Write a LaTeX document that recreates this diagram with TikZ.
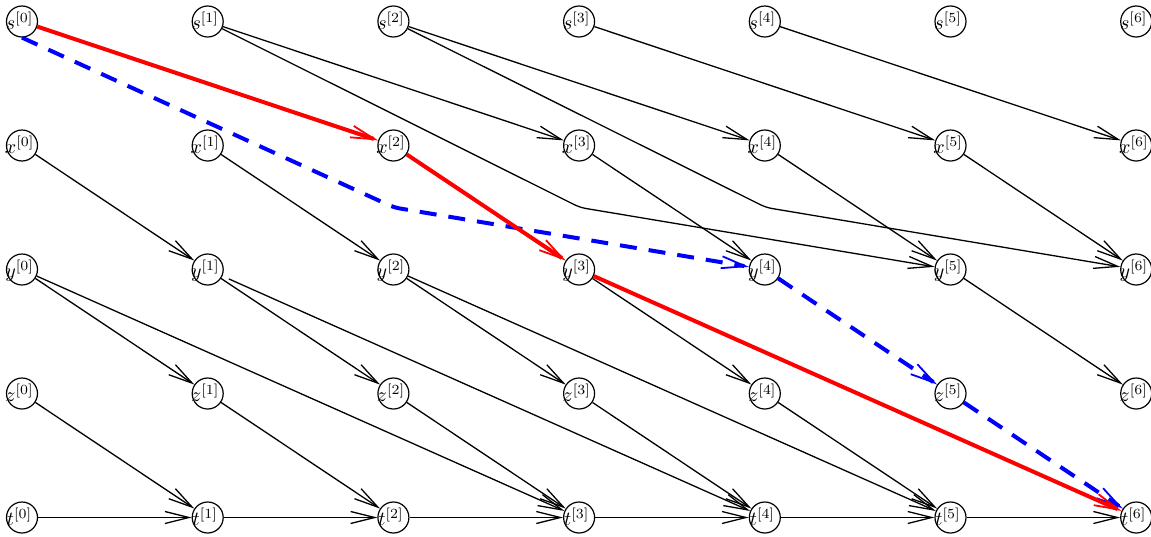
\documentclass[tikz,border=0pt]{standalone}
\usetikzlibrary{arrows.meta}
\begin{document}
\begin{tikzpicture}[x=0.5pt,y=-0.5pt,
  vnode/.style={circle,draw,line width=0.6pt,inner sep=0pt,minimum size=15.5pt},
  vlabel/.style={anchor=base,inner sep=0pt,xshift=-1.2pt,yshift=-4pt},
  edge/.style={line width=0.65pt,-{Straight Barb[length=12pt,width=6pt]}},
  redge/.style={red,line width=2pt,-{Straight Barb[length=12pt,width=6pt,line width=0.9pt]}},
  bedge/.style={blue,line width=2pt,dash pattern=on 8.5pt off 6pt,rounded corners=3pt,-{Straight Barb[length=12pt,width=6pt,line width=0.9pt]}},
  bent/.style={edge,rounded corners=3pt}]
\useasboundingbox (0,0) rectangle (1151,536);
\foreach \r/\yy in {s/21.5,x/145.5,y/269.5,z/393.5,t/517.5}{
  \foreach \i in {0,...,6}{
    \node[vnode] (\r\i) at ({22+185.7*\i},\yy) {};
    \node[vlabel] (\r\i l) at (\r\i) {$\r^{[\i]}$};
  }
}
\coordinate (b0) at (394,207.5);
\coordinate (b1) at (580,207.5);
\coordinate (b2) at (766,207.5);
% black edges
\draw[edge] (s1) -- (x3);
\draw[edge] (s2) -- (x4);
\draw[edge] (s3) -- (x5);
\draw[edge] (s4) -- (x6);
\draw[bent] (s1) -- (b1) -- (y5);
\draw[bent] (s2) -- (b2) -- (y6);
\draw[edge] (x0) -- (y1);
\draw[edge] (x1) -- (y2);
\draw[edge] (x3) -- (y4);
\draw[edge] (x4) -- (y5);
\draw[edge] (x5) -- (y6);
\draw[edge] (y0) -- (z1);
\draw[edge] (y0) -- (t3);
\draw[edge] (y1) -- (z2);
\draw[edge,shorten <=3.5pt] (y1) -- (t4);
\draw[edge] (y2) -- (z3);
\draw[edge] (y2) -- (t5);
\draw[edge] (y3) -- (z4);
\draw[edge] (y5) -- (z6);
\draw[edge] (z0) -- (t1);
\draw[edge] (z1) -- (t2);
\draw[edge] (z2) -- (t3);
\draw[edge] (z3) -- (t4);
\draw[edge] (z4) -- (t5);
\foreach \a/\b in {0/1,1/2,2/3,3/4,4/5,5/6}{
  \draw[edge] (t\a) -- (t\b);
}
% blue path
\draw[bedge] (s0.south) -- (b0) -- (y4);
\draw[bedge] (y4) -- (z5);
\draw[bedge] (z5) -- (t6);
% red path
\draw[redge] (s0) -- (x2);
\draw[redge] (x2) -- (y3);
\draw[redge] (y3) -- (t6);
\end{tikzpicture}
\end{document}
